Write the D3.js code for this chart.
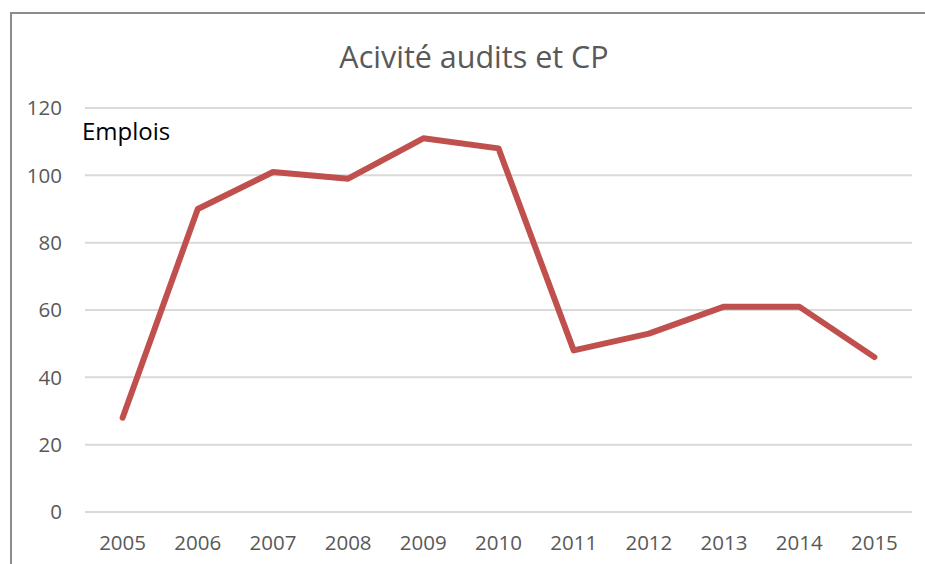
<!DOCTYPE html>
<html>
<head>
<meta charset="utf-8">
<script src="https://cdn.jsdelivr.net/npm/d3@7"></script>
<style>
  body { margin: 0; background: #fff; }
  svg { display: block; font-family: "Open Sans", Lato, sans-serif; }
</style>
</head>
<body>
<div id="chart"></div>
<script>
// chart data
const years = ["2005", "2006", "2007", "2008", "2009", "2010", "2011", "2012", "2013", "2014", "2015"];
const emplois = [28, 90, 101, 99, 111, 108, 48, 53, 61, 61, 46];
const yTicks = [0, 20, 40, 60, 80, 100, 120];

const width = 925, height = 564;
const plot = { left: 85, right: 912, top: 108, bottom: 512 };

const svg = d3.select("#chart").append("svg")
  .attr("width", width)
  .attr("height", height);

// chart frame
svg.append("path")
  .attr("d", "M11," + height + " V13 H" + width)
  .attr("fill", "none")
  .attr("stroke", "#8c8c8c")
  .attr("stroke-width", 2);

const x = d3.scaleBand().domain(years).range([plot.left, plot.right]);
const y = d3.scaleLinear().domain([0, 120]).range([plot.bottom, plot.top]);

// gridlines
svg.append("g")
  .selectAll("line")
  .data(yTicks)
  .join("line")
  .attr("x1", plot.left)
  .attr("x2", plot.right)
  .attr("y1", d => y(d))
  .attr("y2", d => y(d))
  .attr("stroke", "#d9d9d9")
  .attr("stroke-width", 2);

// y tick labels
svg.append("g")
  .selectAll("text")
  .data(yTicks)
  .join("text")
  .attr("x", 62)
  .attr("y", d => y(d))
  .attr("dy", "0.35em")
  .attr("text-anchor", "end")
  .attr("fill", "#595959")
  .style("font-size", "20.5px")
  .text(d => d);

// x tick labels
svg.append("g")
  .selectAll("text")
  .data(years)
  .join("text")
  .attr("x", d => x(d) + x.bandwidth() / 2)
  .attr("y", 550)
  .attr("text-anchor", "middle")
  .attr("fill", "#595959")
  .style("font-size", "20.5px")
  .text(d => d);

// line
const line = d3.line()
  .x((d, i) => x(years[i]) + x.bandwidth() / 2)
  .y(d => y(d));

svg.append("path")
  .datum(emplois)
  .attr("d", line)
  .attr("fill", "none")
  .attr("stroke", "#c0504d")
  .attr("stroke-width", 6)
  .attr("stroke-linejoin", "round")
  .attr("stroke-linecap", "round");

// title
svg.append("text")
  .attr("x", 474)
  .attr("y", 68)
  .attr("text-anchor", "middle")
  .attr("fill", "#595959")
  .style("font-size", "30.5px")
  .text("Acivité audits et CP");

// series label
svg.append("text")
  .attr("x", 82)
  .attr("y", 140)
  .attr("fill", "#000")
  .style("font-size", "24px")
  .text("Emplois");
</script>
</body>
</html>
